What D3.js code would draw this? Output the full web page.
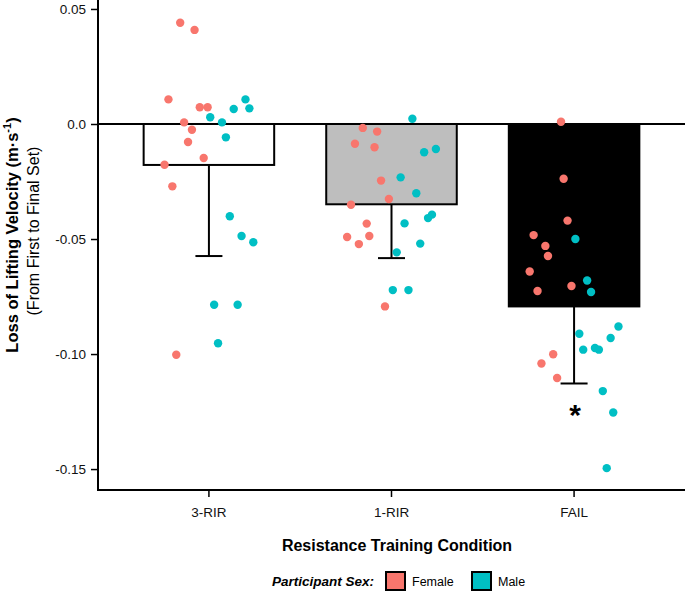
<!DOCTYPE html>
<html>
<head>
<meta charset="utf-8">
<script src="https://cdn.jsdelivr.net/npm/d3@7"></script>
<style>
    body { margin: 0; background: #fff; }
    svg { display: block; font-family: Arial, "Liberation Sans", Helvetica, sans-serif; }
</style>
</head>
<body>
<svg width="685" height="591"></svg>
<script>
// conditions + bar summary
const conditions = ['3-RIR', '1-RIR', 'FAIL'];
const barMeans = [-0.0178, -0.0349, -0.0793];
const barLower = [-0.0574, -0.0583, -0.1128];
const barFills = ['#ffffff', '#bebebe', '#000000'];
const yTicks = [0.05, 0.0, -0.05, -0.10, -0.15];
const yTickLabels = ['0.05', '0.0', '-0.05', '-0.10', '-0.15'];

// individual participants
const female3RIR = [0.0440, 0.0409, 0.0107, 0.0073, 0.0073, 0.0007, -0.0025, -0.0078, -0.0148, -0.0177, -0.0271, -0.1003];
const female3RIRJitter = [-0.22, -0.11, -0.31, -0.07, -0.01, -0.19, -0.13, -0.16, -0.04, -0.34, -0.28, -0.25];
const male3RIR = [0.0107, 0.0065, 0.0068, 0.0029, 0.0007, -0.0058, -0.0401, -0.0487, -0.0514, -0.0786, -0.0786, -0.0953];
const male3RIRJitter = [0.28, 0.19, 0.31, 0.01, 0.10, 0.13, 0.16, 0.25, 0.34, 0.04, 0.22, 0.07];

const female1RIR = [-0.0017, -0.0033, -0.0086, -0.0101, -0.0246, -0.0326, -0.0351, -0.0433, -0.0491, -0.0487, -0.0522, -0.0793];
const female1RIRJitter = [-0.22, -0.11, -0.28, -0.13, -0.08, -0.02, -0.31, -0.19, -0.34, -0.17, -0.25, -0.05];
const male1RIR = [0.0023, -0.0123, -0.0109, -0.0232, -0.0301, -0.0394, -0.0409, -0.0432, -0.0520, -0.0558, -0.0722, -0.0722];
const male1RIRJitter = [0.16, 0.25, 0.34, 0.07, 0.19, 0.31, 0.28, 0.10, 0.22, 0.04, 0.01, 0.13];

const femaleFAIL = [0.0010, -0.0238, -0.0420, -0.0483, -0.0530, -0.0574, -0.0641, -0.0704, -0.0726, -0.1001, -0.1041, -0.1104];
const femaleFAILJitter = [-0.10, -0.08, -0.05, -0.31, -0.22, -0.20, -0.34, -0.02, -0.28, -0.16, -0.25, -0.13];
const maleFAIL = [-0.0500, -0.0680, -0.0730, -0.0912, -0.0880, -0.0930, -0.0981, -0.0974, -0.0981, -0.1161, -0.1254, -0.1496];
const maleFAILJitter = [0.01, 0.10, 0.13, 0.04, 0.34, 0.28, 0.07, 0.16, 0.19, 0.22, 0.30, 0.25];

const sexes = ['Female', 'Male'];
const sexColors = ['#F8766D', '#00BFC4'];

let svg = d3.select('svg');
const plotLeft = 98, plotRight = 685, plotTop = 0, plotBottom = 490;

let x = d3.scaleBand().domain(conditions).range([plotLeft, plotRight]).paddingInner(0.285).paddingOuter(0.25);
let y = d3.scaleLinear().domain([-0.1591, 0.0539]).range([plotBottom, plotTop]);
let color = d3.scaleOrdinal().domain(sexes).range(sexColors);

// build point rows
let groups = [
    [female3RIR, female3RIRJitter, '3-RIR', 'Female'],
    [male3RIR, male3RIRJitter, '3-RIR', 'Male'],
    [female1RIR, female1RIRJitter, '1-RIR', 'Female'],
    [male1RIR, male1RIRJitter, '1-RIR', 'Male'],
    [femaleFAIL, femaleFAILJitter, 'FAIL', 'Female'],
    [maleFAIL, maleFAILJitter, 'FAIL', 'Male']
];
let points = [];
groups.forEach(function(g){
    g[0].forEach(function(v, i){
        points.push({cond: g[2], sex: g[3], value: v, jitter: g[1][i]});
    });
});
let bars = conditions.map(function(c, i){
    return {cond: c, mean: barMeans[i], lower: barLower[i], fill: barFills[i]};
});

//bars
svg.append('g')
    .selectAll('rect')
    .data(bars)
    .enter()
    .append('rect')
    .attr('x', d => x(d.cond))
    .attr('y', d => y(0))
    .attr('width', x.bandwidth())
    .attr('height', d => y(d.mean) - y(0))
    .attr('fill', d => d.fill)
    .attr('stroke', '#000')
    .attr('stroke-width', 2);

//error bars
let err = svg.append('g').attr('stroke', '#000').attr('stroke-width', 2);
err.selectAll('line.v')
    .data(bars)
    .enter()
    .append('line')
    .attr('class', 'v')
    .attr('x1', d => x(d.cond) + x.bandwidth() / 2)
    .attr('x2', d => x(d.cond) + x.bandwidth() / 2)
    .attr('y1', d => y(d.mean))
    .attr('y2', d => y(d.lower));
err.selectAll('line.cap')
    .data(bars)
    .enter()
    .append('line')
    .attr('class', 'cap')
    .attr('x1', d => x(d.cond) + x.bandwidth() / 2 - 13.5)
    .attr('x2', d => x(d.cond) + x.bandwidth() / 2 + 13.5)
    .attr('y1', d => y(d.lower))
    .attr('y2', d => y(d.lower));

//zero line
svg.append('line')
    .attr('x1', plotLeft).attr('x2', plotRight)
    .attr('y1', y(0)).attr('y2', y(0))
    .attr('stroke', '#000')
    .attr('stroke-width', 2);

//axes
let yAxis = svg.append('g')
    .attr('transform', `translate(${plotLeft},0)`)
    .call(d3.axisLeft(y).tickValues(yTicks).tickFormat((d, i) => yTickLabels[i]).tickSize(7).tickPadding(5));
let xAxis = svg.append('g')
    .attr('transform', `translate(0,${plotBottom})`)
    .call(d3.axisBottom(x).tickSize(7).tickPadding(10));
[yAxis, xAxis].forEach(function(a){
    a.select('.domain').remove();
    a.selectAll('.tick line').attr('stroke-width', 1.5);
    a.selectAll('.tick text').attr('font-size', 13.5).attr('fill', '#111')
        .attr('font-family', 'Arial, "Liberation Sans", sans-serif');
});
svg.append('line').attr('x1', plotLeft).attr('x2', plotLeft).attr('y1', plotTop).attr('y2', plotBottom + 1)
    .attr('stroke', '#000').attr('stroke-width', 2);
svg.append('line').attr('x1', plotLeft - 1).attr('x2', plotRight).attr('y1', plotBottom).attr('y2', plotBottom)
    .attr('stroke', '#000').attr('stroke-width', 2);

//points
svg.append('g')
    .selectAll('circle')
    .data(points)
    .enter()
    .append('circle')
    .attr('cx', d => x(d.cond) + x.bandwidth() / 2 + d.jitter * x.bandwidth())
    .attr('cy', d => y(d.value))
    .attr('r', 4.2)
    .attr('fill', d => color(d.sex));

//significance star
svg.append('text')
    .attr('x', x('FAIL') + x.bandwidth() / 2 + 1)
    .attr('y', y(-0.1128) + 42)
    .attr('text-anchor', 'middle')
    .attr('font-size', 30)
    .attr('font-weight', 'bold')
    .text('*');

//axis titles
let yTitle = svg.append('text')
    .attr('transform', 'translate(18,235) rotate(-90)')
    .attr('text-anchor', 'middle')
    .attr('font-size', 16.5)
    .attr('font-weight', 'bold');
yTitle.append('tspan').text('Loss of Lifting Velocity (m·s');
yTitle.append('tspan').attr('font-size', 11).attr('dy', -7).text('-1');
yTitle.append('tspan').attr('dy', 7).text(')');
svg.append('text')
    .attr('transform', 'translate(39,231) rotate(-90)')
    .attr('text-anchor', 'middle')
    .attr('font-size', 16)
    .text('(From First to Final Set)');

svg.append('text')
    .attr('x', 397)
    .attr('y', 551)
    .attr('text-anchor', 'middle')
    .attr('font-size', 16)
    .attr('font-weight', 'bold')
    .text('Resistance Training Condition');

//legend
let legend = svg.append('g').attr('transform', 'translate(0,581)');
legend.append('text')
    .attr('x', 374)
    .attr('y', 5)
    .attr('text-anchor', 'end')
    .attr('font-size', 13.5)
    .attr('font-weight', 'bold')
    .attr('font-style', 'italic')
    .text('Participant Sex:');
let legX = [386, 472];
let item = legend.selectAll('g.item')
    .data(sexes)
    .enter()
    .append('g')
    .attr('class', 'item')
    .attr('transform', (d, i) => `translate(${legX[i]},0)`);
item.append('rect')
    .attr('x', 0).attr('y', -9)
    .attr('width', 19).attr('height', 18)
    .attr('fill', d => color(d))
    .attr('stroke', '#000')
    .attr('stroke-width', 2);
item.append('text')
    .attr('x', 26)
    .attr('y', 5)
    .attr('font-size', 12.5)
    .text(d => d);
</script>
</body>
</html>
